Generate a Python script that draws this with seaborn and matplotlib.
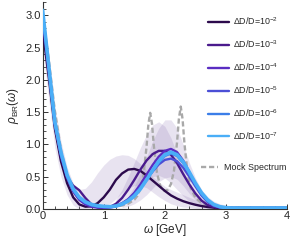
import numpy as np
import matplotlib
matplotlib.use("Agg")
import matplotlib.pyplot as plt
from matplotlib.ticker import MultipleLocator
from matplotlib.lines import Line2D
import seaborn as sns

# omega grid (GeV) shared by the reconstructions
omega = np.round(np.arange(0, 41) * 0.1, 2)

# reconstructed spectral functions
rho_1e2 = [2.78, 2.05, 1.25, 0.74, 0.40, 0.18, 0.07, 0.035, 0.04, 0.09, 0.18, 0.30, 0.45, 0.55, 0.61, 0.62, 0.59, 0.52, 0.44, 0.36,
           0.28, 0.21, 0.16, 0.12, 0.09, 0.065, 0.045, 0.03, 0.02, 0.016, 0.015, 0.015, 0.015, 0.015, 0.015, 0.015, 0.015, 0.015, 0.015, 0.015, 0.015]
rho_1e3 = [2.90, 2.10, 1.30, 0.80, 0.50, 0.36, 0.29, 0.17, 0.07, 0.025, 0.015, 0.03, 0.08, 0.17, 0.30, 0.45, 0.61, 0.75, 0.85, 0.90,
           0.90, 0.84, 0.71, 0.54, 0.38, 0.24, 0.13, 0.06, 0.03, 0.018, 0.015, 0.015, 0.015, 0.015, 0.015, 0.015, 0.015, 0.015, 0.015, 0.015, 0.015]
rho_1e4 = [3.00, 2.20, 1.33, 0.83, 0.48, 0.27, 0.14, 0.07, 0.035, 0.02, 0.015, 0.02, 0.04, 0.08, 0.15, 0.25, 0.38, 0.53, 0.68, 0.81,
           0.90, 0.93, 0.88, 0.75, 0.57, 0.38, 0.22, 0.11, 0.05, 0.025, 0.015, 0.015, 0.015, 0.015, 0.015, 0.015, 0.015, 0.015, 0.015, 0.015, 0.015]
rho_1e5 = [3.02, 2.20, 1.32, 0.84, 0.50, 0.29, 0.16, 0.09, 0.05, 0.035, 0.03, 0.035, 0.05, 0.09, 0.15, 0.23, 0.34, 0.46, 0.58, 0.69,
           0.76, 0.78, 0.74, 0.64, 0.50, 0.35, 0.21, 0.11, 0.05, 0.025, 0.015, 0.015, 0.015, 0.015, 0.015, 0.015, 0.015, 0.015, 0.015, 0.015, 0.015]
rho_1e6 = [3.05, 2.20, 1.33, 0.86, 0.51, 0.30, 0.17, 0.10, 0.06, 0.04, 0.03, 0.03, 0.04, 0.07, 0.12, 0.20, 0.31, 0.45, 0.59, 0.72,
           0.82, 0.86, 0.82, 0.71, 0.55, 0.38, 0.23, 0.12, 0.06, 0.03, 0.015, 0.015, 0.015, 0.015, 0.015, 0.015, 0.015, 0.015, 0.015, 0.015, 0.015]
rho_1e7 = [3.08, 2.22, 1.35, 0.88, 0.53, 0.31, 0.18, 0.11, 0.07, 0.05, 0.04, 0.035, 0.045, 0.075, 0.125, 0.20, 0.31, 0.45, 0.60, 0.74,
           0.84, 0.88, 0.84, 0.73, 0.57, 0.40, 0.25, 0.14, 0.07, 0.035, 0.02, 0.015, 0.015, 0.015, 0.015, 0.015, 0.015, 0.015, 0.015, 0.015, 0.015]

labels = ["ΔD/D=10$^{-2}$", "ΔD/D=10$^{-3}$", "ΔD/D=10$^{-4}$",
          "ΔD/D=10$^{-5}$", "ΔD/D=10$^{-6}$", "ΔD/D=10$^{-7}$"]
colors = ["#2c0a4c", "#4a1a8c", "#5a2dc2", "#4b4fd6", "#3b7ee8", "#4aaef7"]

# mock spectrum (two narrow resonances on top of the low-omega part)
omega_mock = [0.0, 0.1, 0.2, 0.3, 0.4, 0.5, 0.6, 0.7, 0.8, 0.9, 1.0, 1.1, 1.2, 1.3, 1.4, 1.5, 1.55, 1.6, 1.65, 1.7,
              1.73, 1.76, 1.79, 1.82, 1.87, 1.92, 1.96, 2.0, 2.05, 2.1, 2.15, 2.2, 2.23, 2.26, 2.29, 2.32, 2.37, 2.42,
              2.5, 2.6, 2.7, 2.8, 3.0, 3.5, 4.0]
rho_mock = [3.02, 2.32, 1.52, 0.92, 0.52, 0.28, 0.15, 0.08, 0.045, 0.03, 0.025, 0.028, 0.038, 0.054, 0.081, 0.142, 0.203,
            0.312, 0.528, 0.959, 1.306, 1.489, 1.315, 0.978, 0.565, 0.371, 0.303, 0.279, 0.299, 0.386, 0.595, 1.038,
            1.400, 1.586, 1.391, 1.021, 0.561, 0.331, 0.172, 0.094, 0.060, 0.042, 0.024, 0.010, 0.005]

# error bands
band_a_w = omega[:31]
band_a_lo = [2.50, 1.70, 0.95, 0.50, 0.22, 0.06, 0.0, 0.0, 0.0, 0.0, 0.02, 0.08, 0.16, 0.25, 0.32, 0.36, 0.36, 0.33, 0.26, 0.19,
             0.13, 0.08, 0.05, 0.03, 0.02, 0.01, 0.0, 0.0, 0.0, 0.0, 0.0]
band_a_hi = [3.10, 2.40, 1.60, 1.05, 0.65, 0.40, 0.30, 0.32, 0.42, 0.56, 0.68, 0.77, 0.82, 0.84, 0.83, 0.78, 0.70, 0.60, 0.50, 0.42,
             0.35, 0.30, 0.26, 0.22, 0.18, 0.14, 0.10, 0.07, 0.05, 0.03, 0.02]
band_b_w = omega[12:30]
band_b_lo = [0.02, 0.05, 0.10, 0.18, 0.30, 0.42, 0.50, 0.52, 0.48, 0.40, 0.30, 0.20, 0.12, 0.06, 0.03, 0.01, 0.0, 0.0]
band_b_hi = [0.15, 0.30, 0.50, 0.72, 0.95, 1.15, 1.30, 1.35, 1.28, 1.10, 0.85, 0.60, 0.40, 0.25, 0.15, 0.08, 0.04, 0.02]
band_c_w = omega[13:34]
band_c_lo = [0.02, 0.04, 0.08, 0.14, 0.22, 0.32, 0.42, 0.48, 0.50, 0.46, 0.36, 0.24, 0.14, 0.07, 0.03, 0.01, 0.0, 0.0, 0.0, 0.0, 0.0]
band_c_hi = [0.10, 0.20, 0.35, 0.55, 0.80, 1.05, 1.25, 1.38, 1.38, 1.25, 1.00, 0.72, 0.48, 0.30, 0.19, 0.12, 0.08, 0.06, 0.04, 0.02, 0.01]

sns.set_theme(style="ticks")
plt.rcParams["font.family"] = ["Liberation Sans", "DejaVu Sans"]
plt.rcParams["mathtext.fontset"] = "custom"
plt.rcParams["mathtext.rm"] = "Liberation Sans"
plt.rcParams["mathtext.it"] = "Liberation Sans:italic"

fig = plt.figure(figsize=(3.0, 2.41), dpi=100)
ax = fig.add_axes([0.142, 0.133, 0.815, 0.857])

band_color = "#7b5ca8"
for w, lo, hi in [(band_a_w, band_a_lo, band_a_hi), (band_b_w, band_b_lo, band_b_hi), (band_c_w, band_c_lo, band_c_hi)]:
    ax.fill_between(w, lo, hi, color=band_color, alpha=0.17, lw=0, zorder=1)

sns.lineplot(x=omega_mock, y=rho_mock, color="#a9a9a9", lw=1.7, dashes=False, ax=ax, zorder=2)
ax.lines[-1].set_dashes((2.2, 1.2))

series = [rho_1e2, rho_1e3, rho_1e4, rho_1e5, rho_1e6, rho_1e7]
for i, (vals, c) in enumerate(zip(series, colors)):
    lw = 2.6 if i == 5 else 1.7
    sns.lineplot(x=omega, y=vals, color=c, lw=lw, ax=ax, zorder=3 + i)

ax.set_xlim(0, 4)
ax.set_ylim(0, 3.2)
ax.xaxis.set_major_locator(MultipleLocator(1))
ax.xaxis.set_minor_locator(MultipleLocator(0.2))
ax.yaxis.set_major_locator(MultipleLocator(0.5))
ax.yaxis.set_minor_locator(MultipleLocator(0.1))
ax.yaxis.set_major_formatter(matplotlib.ticker.FormatStrFormatter("%.1f"))
ax.tick_params(which="major", direction="in", length=3.5, width=0.7, labelsize=8, pad=1.5, color="#333333")
ax.tick_params(which="minor", direction="in", length=2, width=0.6, color="#333333")
sns.despine(ax=ax)
for s in ["left", "bottom"]:
    ax.spines[s].set_linewidth(0.8)
    ax.spines[s].set_color("#333333")

ax.set_xlabel(r"$\omega$ [GeV]", fontsize=8.5, labelpad=1)
ax.set_ylabel(r"$\rho_{\mathrm{BR}}(\omega)$", fontsize=8.5, labelpad=3)

handles = [Line2D([], [], color=c, lw=1.7) for c in colors]
leg1 = ax.legend(handles, labels, loc="upper left", bbox_to_anchor=(0.68, 0.953),
                 bbox_transform=fig.transFigure, frameon=False, fontsize=6.4,
                 handlelength=2.3, handletextpad=0.5, labelspacing=1.25, borderpad=0)
ax.add_artist(leg1)
mock_handle = Line2D([], [], color="#a9a9a9", lw=1.7, dashes=(2.2, 1.2))
ax.legend([mock_handle], ["Mock Spectrum"], loc="upper left", bbox_to_anchor=(0.655, 0.342),
          bbox_transform=fig.transFigure, frameon=False, fontsize=6.4,
          handlelength=1.9, handletextpad=0.7, borderpad=0)

fig.savefig("out.png", dpi=100)
